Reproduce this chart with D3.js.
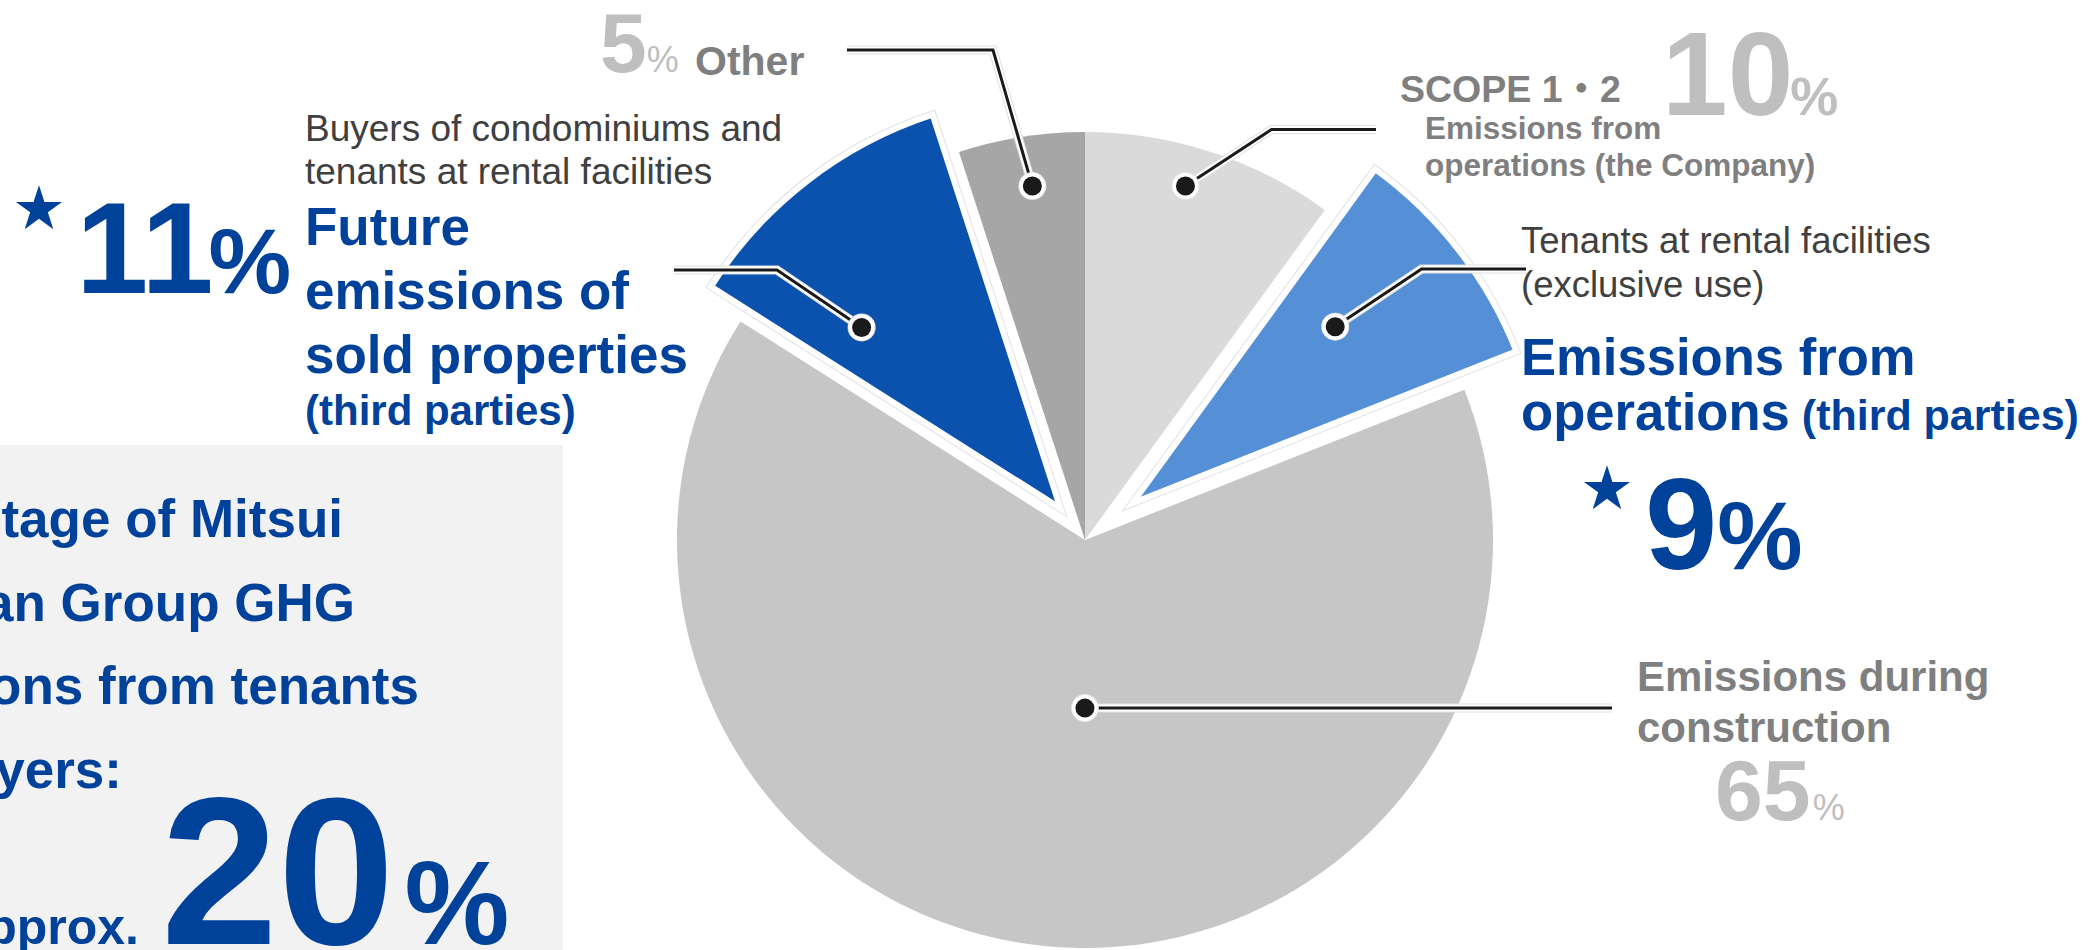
<!DOCTYPE html>
<html>
<head>
<meta charset="utf-8">
<script src="https://cdn.jsdelivr.net/npm/d3@7"></script>
<style>
  html, body { margin: 0; padding: 0; background: #fff; overflow: hidden; }
  svg { display: block; }
</style>
</head>
<body>
<svg id="chart"></svg>
<script>
// ---- Data: share of GHG emissions by source (%), clockwise from 12 o'clock ----
const categories = [
  "SCOPE 1・2",
  "Emissions from operations (third parties)",
  "Emissions during construction",
  "Future emissions of sold properties (third parties)",
  "Other"
];
const shares = [10, 9, 65, 11, 5];
// slices attributable to tenants and buyers (marked with a star)
const starred = [false, true, false, true, false];

// ---- Styling per slice ----
const sliceColors = ["#dadada", "#558fd6", "#c6c6c6", "#0a52ad", "#a6a6a6"];
const explodeOffset = [0, 60, 0, 40, 0];
const radiusBoost = [0, 5, 0, 6, 0];
// where each leader dot sits inside its slice: fraction of the angular span, fraction of radius
const anchorT = [0.44, 0.40, 0.477, 0.25, 0.53];
const anchorR = [0.902, 0.659, 0.412, 0.659, 0.877];
// leader line bends toward its label: [elbow, end] (null elbow = straight)
const leaderRoute = [
  [[1271.5, 129.5], [1376, 129.5]],
  [[1421.5, 269], [1526, 269]],
  [null, [1612, 708]],
  [[777, 270], [674, 270]],
  [[993, 50], [847, 50]]
];

const W = 2096, H = 950;
const FONT = "'Liberation Sans', Arial, 'Noto Sans CJK JP', sans-serif";
const BLUE_TEXT = "#00419a", GRAY_TEXT = "#7f7f7f", PALE_TEXT = "#bfbfbf", DARK_TEXT = "#404040";

const svg = d3.select("#chart").attr("width", W).attr("height", H);
svg.append("rect").attr("width", W).attr("height", H).attr("fill", "#fff");

// summary panel on the left
svg.append("rect").attr("x", 0).attr("y", 445).attr("width", 563).attr("height", H - 445).attr("fill", "#f2f2f2");

// ---- Pie ----
const cx = 1085, cy = 540, R = 408;
const arcs = d3.pie().sort(null).value(d => d).startAngle(0).endAngle(2 * Math.PI)(shares);

const slices = arcs.map((a, i) => {
  const mid = (a.startAngle + a.endAngle) / 2;
  const off = explodeOffset[i];
  return { a, i, dx: off * Math.sin(mid), dy: -off * Math.cos(mid), r: R + radiusBoost[i] };
});

const pieG = svg.append("g").attr("transform", `translate(${cx},${cy})`);
// flat slices first, pulled-out slices on top
const order = slices.slice().sort((p, q) => (explodeOffset[p.i] > 0) - (explodeOffset[q.i] > 0));
order.forEach(s => {
  const path = d3.arc().innerRadius(0).outerRadius(s.r)(s.a);
  const sg = pieG.append("g").attr("transform", `translate(${s.dx},${s.dy})`);
  if (explodeOffset[s.i] > 0) {
    sg.append("path").attr("d", path).attr("fill", "none")
      .attr("stroke", "#e2e2e2").attr("stroke-width", 8).attr("stroke-linejoin", "miter");
    sg.append("path").attr("d", path).attr("fill", sliceColors[s.i])
      .attr("stroke", "#fff").attr("stroke-width", 6).attr("stroke-linejoin", "miter");
  } else {
    sg.append("path").attr("d", path).attr("fill", sliceColors[s.i]);
  }
});

// ---- Leader lines with dots ----
const leaderG = svg.append("g");
slices.forEach(s => {
  const ang = s.a.startAngle + anchorT[s.i] * (s.a.endAngle - s.a.startAngle);
  const rr = anchorR[s.i] * R;
  const px = cx + s.dx + rr * Math.sin(ang);
  const py = cy + s.dy - rr * Math.cos(ang);
  const [elbow, end] = leaderRoute[s.i];
  const pts = [[px, py]];
  if (elbow) pts.push(elbow);
  pts.push(end);
  const line = d3.line()(pts);
  leaderG.append("path").attr("d", line).attr("fill", "none").attr("stroke", "#e0e0e0").attr("stroke-width", 9);
  leaderG.append("path").attr("d", line).attr("fill", "none").attr("stroke", "#fff").attr("stroke-width", 7);
  leaderG.append("path").attr("d", line).attr("fill", "none").attr("stroke", "#1a1a1a").attr("stroke-width", 3);
  leaderG.append("circle").attr("cx", px).attr("cy", py).attr("r", 14).attr("fill", "#e4e4e4");
  leaderG.append("circle").attr("cx", px).attr("cy", py).attr("r", 13).attr("fill", "#fff");
  leaderG.append("circle").attr("cx", px).attr("cy", py).attr("r", 9.5).attr("fill", "#1a1a1a");
});

// ---- Text helpers ----
function txt(x, y, size, weight, fill, str) {
  return svg.append("text").attr("x", x).attr("y", y)
    .attr("font-family", FONT).attr("font-size", size).attr("font-weight", weight)
    .attr("fill", fill).text(str);
}
// big number followed by a smaller percent sign in the same text run
function pct(x, y, size, fill, value, pSize, pWeight, pDx) {
  const t = txt(x, y, size, "bold", fill, String(value));
  t.append("tspan").attr("font-size", pSize).attr("font-weight", pWeight).attr("dx", pDx).text("%");
  return t;
}
function star(x, y, r, fill) {
  svg.append("path")
    .attr("d", d3.symbol().type(d3.symbolStar).size(r * r / 0.8908130915292852)())
    .attr("transform", `translate(${x},${y})`).attr("fill", fill);
}

// Other
pct(600, 72, 84, PALE_TEXT, shares[4], 36, "normal", 0);
txt(695, 75, 41, "bold", GRAY_TEXT, "Other");

// Future emissions of sold properties
txt(305, 141, 37, "normal", DARK_TEXT, "Buyers of condominiums and");
txt(305, 184, 37, "normal", DARK_TEXT, "tenants at rental facilities");
txt(305, 245, 53, "bold", BLUE_TEXT, "Future");
txt(305, 309, 53, "bold", BLUE_TEXT, "emissions of");
txt(305, 373, 53, "bold", BLUE_TEXT, "sold properties");
txt(305, 425, 42, "bold", BLUE_TEXT, "(third parties)");
star(39, 209.5, 24.3, BLUE_TEXT);
pct(76, 293, 130, BLUE_TEXT, shares[3], 93, "bold", -5);

// SCOPE 1・2
txt(1400, 101.5, 37.5, "bold", GRAY_TEXT, categories[0]);
pct(1662, 115, 118, PALE_TEXT, shares[0], 54, "bold", -3);
txt(1425, 138.5, 31.5, "bold", GRAY_TEXT, "Emissions from");
txt(1425, 175.5, 31.5, "bold", GRAY_TEXT, "operations (the Company)");

// Emissions from operations (third parties)
txt(1521, 253, 36.5, "normal", DARK_TEXT, "Tenants at rental facilities");
txt(1521, 296.5, 36.5, "normal", DARK_TEXT, "(exclusive use)");
txt(1521, 375, 52.6, "bold", BLUE_TEXT, "Emissions from");
const opLine = txt(1521, 430, 52.6, "bold", BLUE_TEXT, "operations");
opLine.append("tspan").attr("font-size", 43).text(" (third parties)");
star(1607, 489.5, 24.3, BLUE_TEXT);
pct(1645, 569, 130, BLUE_TEXT, shares[1], 96, "bold", 0);

// Emissions during construction
txt(1637, 691, 42, "bold", GRAY_TEXT, "Emissions during");
txt(1637, 742, 42, "bold", GRAY_TEXT, "construction");
pct(1715, 820, 86, PALE_TEXT, shares[2], 36, "normal", 2);

// Summary: share from tenants and buyers (lines run past the panel's left edge)
const tenantShare = d3.sum(shares.filter((v, i) => starred[i]));
const summaryLines = [
  "Percentage of Mitsui",
  "Fudosan Group GHG",
  "emissions from tenants",
  "and buyers:"
];
const summaryEnds = [343, 355, 419, 122];
summaryLines.forEach((s, k) =>
  txt(summaryEnds[k], 537 + k * 83.7, 53, "bold", BLUE_TEXT, s).attr("text-anchor", "end"));
txt(139, 944, 50, "bold", BLUE_TEXT, "approx.").attr("text-anchor", "end");
pct(161, 944, 210, BLUE_TEXT, tenantShare, 118, "bold", 10);
</script>
</body>
</html>
